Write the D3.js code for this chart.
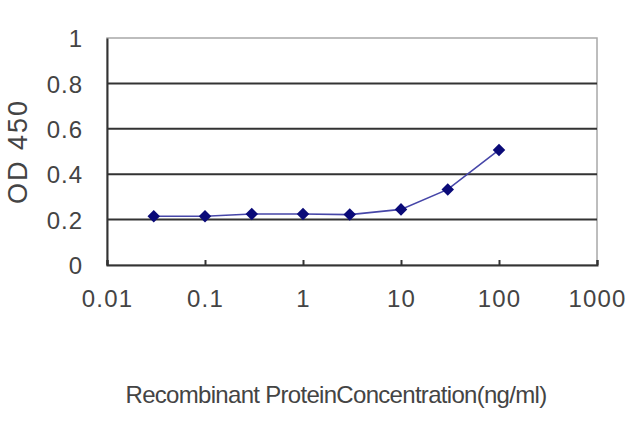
<!DOCTYPE html>
<html>
<head>
<meta charset="utf-8">
<script src="https://cdn.jsdelivr.net/npm/d3@7"></script>
<style>
  body { margin: 0; background: #fff; }
  text { font-family: "Liberation Sans", Arial, sans-serif; fill: #444; }
</style>
</head>
<body>
<svg id="chart" width="640" height="427"></svg>
<script>
// concentrations (ng/ml) and OD450 readings
const conc = [0.03, 0.1, 0.3, 1, 3, 10, 30, 100];
const od450 = [0.215, 0.215, 0.225, 0.225, 0.222, 0.245, 0.333, 0.507];
const xTicks = [0.01, 0.1, 1, 10, 100, 1000];
const yTicks = [0, 0.2, 0.4, 0.6, 0.8, 1];

const svg = d3.select("#chart");
const plotL = 107, plotR = 597, plotT = 38, plotB = 265;

const xScale = d3.scaleLog().domain([0.01, 1000]).range([plotL, plotR]);
const yScale = d3.scaleLinear().domain([0, 1]).range([plotB, plotT]);

// plot frame (top/right lighter)
svg.append("rect")
  .attr("x", plotL).attr("y", plotT)
  .attr("width", plotR - plotL).attr("height", plotB - plotT)
  .attr("fill", "none").attr("stroke", "#a8a8a8").attr("stroke-width", 1.5);

// gridlines
svg.selectAll(".grid").data(yTicks.filter(d => d > 0 && d < 1))
  .enter().append("line")
  .attr("class", "grid")
  .attr("x1", plotL).attr("x2", plotR)
  .attr("y1", d => yScale(d)).attr("y2", d => yScale(d))
  .attr("stroke", "#333").attr("stroke-width", 2);

// y axis
const yAxis = d3.axisLeft(yScale).tickValues(yTicks).tickSize(0).tickPadding(24)
  .tickFormat(d => String(d));
const gy = svg.append("g").attr("transform", `translate(${plotL},0)`).call(yAxis);
gy.select(".domain").attr("stroke", "#333").attr("stroke-width", 2);
gy.selectAll("text").attr("font-size", 24).attr("letter-spacing", 1)
  .attr("dy", "0.36em").style("fill", "#444");

// x axis, ticks pointing inward
const xAxis = d3.axisBottom(xScale).tickValues(xTicks).tickSize(-5).tickPadding(33)
  .tickFormat(d => String(d));
const gx = svg.append("g").attr("transform", `translate(0,${plotB})`).call(xAxis);
gx.select(".domain").attr("stroke", "#333").attr("stroke-width", 2);
gx.selectAll(".tick line").attr("stroke", "#333").attr("stroke-width", 2);
gx.selectAll("text").attr("font-size", 24).attr("letter-spacing", 1.2)
  .attr("dy", "0.36em").style("fill", "#444");

// series line
const pts = conc.map((c, i) => [c, od450[i]]);
svg.append("path")
  .datum(pts)
  .attr("fill", "none")
  .attr("stroke", "#4646a8")
  .attr("stroke-width", 1.6)
  .attr("d", d3.line().x(d => xScale(d[0])).y(d => yScale(d[1])));

// diamond markers
svg.selectAll(".pt").data(pts)
  .enter().append("path")
  .attr("class", "pt")
  .attr("transform", d => `translate(${xScale(d[0])},${yScale(d[1])})`)
  .attr("d", d3.symbol().type(d3.symbolDiamond2).size(100))
  .attr("fill", "#0a0a78");

// axis titles
svg.append("text")
  .attr("transform", `translate(27,${(plotT + plotB) / 2}) rotate(-90)`)
  .attr("text-anchor", "middle")
  .attr("font-size", 27)
  .attr("letter-spacing", 2)
  .text("OD 450");

svg.append("text")
  .attr("x", 336).attr("y", 403)
  .attr("text-anchor", "middle")
  .attr("font-size", 24)
  .attr("letter-spacing", -0.7)
  .text("Recombinant ProteinConcentration(ng/ml)");
</script>
</body>
</html>
